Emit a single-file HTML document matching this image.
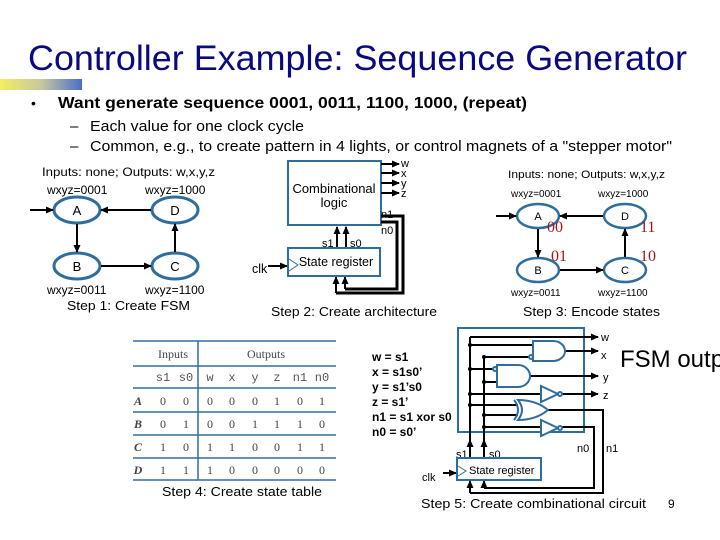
<!DOCTYPE html>
<html><head><meta charset="utf-8"><style>
html,body{margin:0;padding:0;background:#fff;}
svg{display:block;font-family:"Liberation Sans",sans-serif;}
</style></head><body>
<svg width="720" height="540" viewBox="0 0 720 540" xmlns="http://www.w3.org/2000/svg">
<defs>
<linearGradient id="g" x1="0" x2="1"><stop offset="0" stop-color="#f3ee60"/><stop offset="0.5" stop-color="#c8c8a0"/><stop offset="1" stop-color="#4a6fc8"/></linearGradient>
<marker id="ar" markerWidth="8" markerHeight="8" refX="7" refY="4" orient="auto" markerUnits="userSpaceOnUse"><path d="M0,0.5 L8,4 L0,7.5z" fill="#000"/></marker>
</defs>
<rect width="720" height="540" fill="#fff"/>
<text x="28" y="70" font-size="35" fill="#0a0a80" textLength="659" lengthAdjust="spacingAndGlyphs">Controller Example: Sequence Generator</text>
<rect x="0" y="79" width="82" height="11" fill="url(#g)"/>
<text x="31" y="108" font-size="14">•</text>
<text x="58" y="108" font-size="16" font-weight="bold" textLength="469" lengthAdjust="spacingAndGlyphs">Want generate sequence 0001, 0011, 1100, 1000, (repeat)</text>
<text x="70" y="131" font-size="15">–</text>
<text x="90" y="131" font-size="15" textLength="214" lengthAdjust="spacingAndGlyphs">Each value for one clock cycle</text>
<text x="70" y="151" font-size="15">–</text>
<text x="90" y="151" font-size="15" textLength="582" lengthAdjust="spacingAndGlyphs">Common, e.g., to create pattern in 4 lights, or control magnets of a "stepper motor"</text>

<!-- Step 1 -->
<g font-size="12">
<text x="42" y="176" textLength="173" lengthAdjust="spacingAndGlyphs">Inputs: none; Outputs: w,x,y,z</text>
<text x="47" y="194">wxyz=0001</text><text x="145" y="194">wxyz=1000</text>
<text x="47" y="294">wxyz=0011</text><text x="145" y="294">wxyz=1100</text>
</g>
<g fill="none" stroke="#2e6e9e" stroke-width="3">
<ellipse cx="77" cy="210" rx="23" ry="13"/><ellipse cx="175" cy="210" rx="23" ry="13"/>
<ellipse cx="77" cy="266" rx="23" ry="13"/><ellipse cx="175" cy="266" rx="23" ry="13"/>
</g>
<g stroke="#000" stroke-width="2" marker-end="url(#ar)">
<line x1="30" y1="210" x2="53" y2="210"/><line x1="151" y1="210" x2="101" y2="210"/>
<line x1="77" y1="224" x2="77" y2="252"/><line x1="101" y1="266" x2="151" y2="266"/>
<line x1="175" y1="252" x2="175" y2="224"/>
</g>
<g font-size="13" text-anchor="middle"><text x="77" y="215">A</text><text x="175" y="215">D</text><text x="77" y="271">B</text><text x="175" y="271">C</text></g>
<text x="67" y="310" font-size="13" textLength="123" lengthAdjust="spacingAndGlyphs">Step 1: Create FSM</text>

<!-- Step 2 -->
<rect x="288" y="161" width="93" height="64" fill="none" stroke="#2e6e9e" stroke-width="2"/>
<text x="334" y="193" font-size="13" text-anchor="middle">Combinational</text>
<text x="334" y="207" font-size="13" text-anchor="middle">logic</text>
<g stroke="#000" stroke-width="2" marker-end="url(#ar)">
<line x1="381" y1="164" x2="399" y2="164"/><line x1="381" y1="173" x2="399" y2="173"/>
<line x1="381" y1="183" x2="399" y2="183"/><line x1="381" y1="193" x2="399" y2="193"/>
<line x1="337" y1="248" x2="337" y2="227"/><line x1="346" y1="248" x2="346" y2="227"/>
<line x1="268" y1="266" x2="287" y2="266"/>
<line x1="336" y1="293" x2="336" y2="277"/><line x1="345" y1="289" x2="345" y2="277"/>
</g>
<g font-size="11"><text x="401" y="167">w</text><text x="401" y="177">x</text><text x="401" y="187">y</text><text x="401" y="197">z</text>
<text x="381" y="218">n1</text><text x="381" y="234">n0</text><text x="322" y="247">s1</text><text x="350" y="247">s0</text></g>
<polyline points="381,216 403,216 403,293 336,293" fill="none" stroke="#000" stroke-width="3"/>
<polyline points="381,222 397,222 397,289 345,289" fill="none" stroke="#000" stroke-width="3"/>
<rect x="288" y="248" width="92" height="28" fill="none" stroke="#2e6e9e" stroke-width="2"/>
<polyline points="289,259 298,265 289,271" fill="none" stroke="#2e6e9e" stroke-width="1"/>
<text x="336" y="266" font-size="12.5" text-anchor="middle">State register</text>
<text x="252" y="273" font-size="12.5">clk</text>
<text x="271" y="316" font-size="13" textLength="166" lengthAdjust="spacingAndGlyphs">Step 2: Create architecture</text>

<!-- Step 3 -->
<text x="508" y="178" font-size="11" textLength="157" lengthAdjust="spacingAndGlyphs">Inputs: none; Outputs: w,x,y,z</text>
<g font-size="10"><text x="511" y="197">wxyz=0001</text><text x="598" y="197">wxyz=1000</text>
<text x="511" y="296">wxyz=0011</text><text x="598" y="296">wxyz=1100</text></g>
<g fill="none" stroke="#2e6e9e" stroke-width="2.5">
<ellipse cx="538" cy="216" rx="21" ry="12"/><ellipse cx="625" cy="216" rx="21" ry="12"/>
<ellipse cx="538" cy="270" rx="21" ry="12"/><ellipse cx="625" cy="270" rx="21" ry="12"/>
</g>
<g stroke="#000" stroke-width="2" marker-end="url(#ar)">
<line x1="496" y1="216" x2="516" y2="216"/><line x1="603" y1="216" x2="560" y2="216"/>
<line x1="538" y1="229" x2="538" y2="257"/><line x1="560" y1="270" x2="603" y2="270"/>
<line x1="625" y1="257" x2="625" y2="229"/>
</g>
<g font-size="11" text-anchor="middle"><text x="538" y="220">A</text><text x="625" y="220">D</text><text x="538" y="274">B</text><text x="625" y="274">C</text></g>
<g font-family="Liberation Serif,serif" font-size="16" fill="#a01818"><text x="547" y="232">00</text><text x="640" y="232">11</text><text x="551" y="261">01</text><text x="640" y="261">10</text></g>
<text x="523" y="316" font-size="13" textLength="137" lengthAdjust="spacingAndGlyphs">Step 3: Encode states</text>

<!-- Step 4 table -->
<g stroke="#2e6e9e" stroke-width="1.5">
<line x1="133" y1="341" x2="336" y2="341"/><line x1="133" y1="366" x2="336" y2="366"/>
<line x1="133" y1="388" x2="336" y2="388"/><line x1="133" y1="412" x2="336" y2="412"/>
<line x1="133" y1="435" x2="336" y2="435"/><line x1="133" y1="458" x2="336" y2="458"/>
<line x1="133" y1="480" x2="336" y2="480"/><line x1="198" y1="341" x2="198" y2="480"/>
</g>
<g font-family="Liberation Serif,serif" font-size="12" fill="#444" text-anchor="middle">
<text x="173" y="358">Inputs</text><text x="266" y="358">Outputs</text>
</g>
<g font-family="Liberation Mono,monospace" font-size="12" fill="#555" text-anchor="middle">
<text x="163" y="381">s1</text><text x="186" y="381">s0</text><text x="210" y="381">w</text><text x="232" y="381">x</text><text x="255" y="381">y</text><text x="277" y="381">z</text><text x="300" y="381">n1</text><text x="322" y="381">n0</text>
</g>
<g font-family="Liberation Serif,serif" font-size="12" fill="#444" text-anchor="middle">
<g font-style="italic" font-weight="bold"><text x="138" y="405">A</text><text x="138" y="428">B</text><text x="138" y="451">C</text><text x="138" y="474">D</text></g>
<text x="163" y="405">0</text><text x="186" y="405">0</text><text x="210" y="405">0</text><text x="232" y="405">0</text><text x="255" y="405">0</text><text x="277" y="405">1</text><text x="300" y="405">0</text><text x="322" y="405">1</text>
<text x="163" y="428">0</text><text x="186" y="428">1</text><text x="210" y="428">0</text><text x="232" y="428">0</text><text x="255" y="428">1</text><text x="277" y="428">1</text><text x="300" y="428">1</text><text x="322" y="428">0</text>
<text x="163" y="451">1</text><text x="186" y="451">0</text><text x="210" y="451">1</text><text x="232" y="451">1</text><text x="255" y="451">0</text><text x="277" y="451">0</text><text x="300" y="451">1</text><text x="322" y="451">1</text>
<text x="163" y="474">1</text><text x="186" y="474">1</text><text x="210" y="474">1</text><text x="232" y="474">0</text><text x="255" y="474">0</text><text x="277" y="474">0</text><text x="300" y="474">0</text><text x="322" y="474">0</text>
</g>
<text x="162" y="496" font-size="13" textLength="160" lengthAdjust="spacingAndGlyphs">Step 4: Create state table</text>

<!-- Step 5 -->
<g font-size="12" font-weight="bold">
<text x="372" y="361">w = s1</text><text x="372" y="376">x = s1s0’</text><text x="372" y="391">y = s1’s0</text>
<text x="372" y="406">z = s1’</text><text x="372" y="421">n1 = s1 xor s0</text><text x="372" y="436">n0 = s0’</text>
</g>
<rect x="458" y="328" width="126" height="104" fill="none" stroke="#2e6e9e" stroke-width="2"/>
<g stroke="#000" stroke-width="2" fill="none">
<line x1="470" y1="337" x2="470" y2="457"/><line x1="484" y1="357" x2="484" y2="457"/>
<line x1="470" y1="345" x2="533" y2="345"/><line x1="484" y1="357" x2="533" y2="357"/>
<line x1="470" y1="369" x2="497" y2="369"/><line x1="484" y1="382" x2="497" y2="382"/>
<line x1="470" y1="394" x2="541" y2="394"/><line x1="470" y1="405" x2="518" y2="405"/>
<line x1="484" y1="415" x2="518" y2="415"/><line x1="484" y1="427" x2="541" y2="427"/>
<polyline points="548,410 603,410 603,493 470,493"/>
<polyline points="559,427 594,427 594,488 484,488"/>
</g>
<g stroke="#000" stroke-width="2" marker-end="url(#ar)">
<line x1="470" y1="337" x2="598" y2="337"/><line x1="565" y1="351" x2="598" y2="351"/>
<line x1="530" y1="376" x2="598" y2="376"/><line x1="560" y1="394" x2="598" y2="394"/>
<line x1="443" y1="473" x2="456" y2="473"/>
<line x1="470" y1="493" x2="470" y2="481"/><line x1="484" y1="488" x2="484" y2="481"/>
<line x1="470" y1="457" x2="470" y2="440"/><line x1="484" y1="457" x2="484" y2="440"/>
</g>
<g fill="#000"><circle cx="470" cy="345" r="2"/><circle cx="470" cy="369" r="2"/><circle cx="470" cy="394" r="2"/><circle cx="470" cy="405" r="2"/><circle cx="484" cy="357" r="2"/><circle cx="484" cy="382" r="2"/><circle cx="484" cy="415" r="2"/><circle cx="484" cy="427" r="2"/></g>
<g fill="#fff" stroke="#2e6e9e" stroke-width="2">
<path d="M533,341 H553 A12,10 0 0 1 553,361 H533 Z"/>
<path d="M497,365 H518 A12,11 0 0 1 518,387 H497 Z"/>
<path d="M541,386 L558,394 L541,402 Z"/>
<path d="M541,420 L558,428 L541,436 Z"/>
<path d="M518,400 Q536,400 548,410 Q536,420 518,420 Q526,410 518,400 Z"/>
<path d="M514,400 Q522,410 514,420" fill="none"/>
<circle cx="531" cy="357" r="2"/><circle cx="495" cy="369" r="2"/><circle cx="560" cy="394" r="2"/><circle cx="560" cy="428" r="2"/>
</g>
<g font-size="11"><text x="601" y="341">w</text><text x="601" y="359">x</text><text x="603" y="381">y</text><text x="603" y="399">z</text>
<text x="577" y="452">n0</text><text x="606" y="452">n1</text><text x="456" y="458">s1</text><text x="489" y="458">s0</text><text x="422" y="481">clk</text></g>
<rect x="457" y="458" width="84" height="22" fill="#fff" stroke="#2e6e9e" stroke-width="2"/>
<polyline points="458,466 466,471 458,476" fill="none" stroke="#2e6e9e" stroke-width="1"/>
<text x="469" y="474" font-size="11">State register</text>
<text x="620" y="367" font-size="24">FSM outp</text>
<text x="421" y="508" font-size="13" textLength="225" lengthAdjust="spacingAndGlyphs">Step 5: Create  combinational circuit</text>
<text x="668" y="508" font-size="12">9</text>
</svg>
</body></html>
